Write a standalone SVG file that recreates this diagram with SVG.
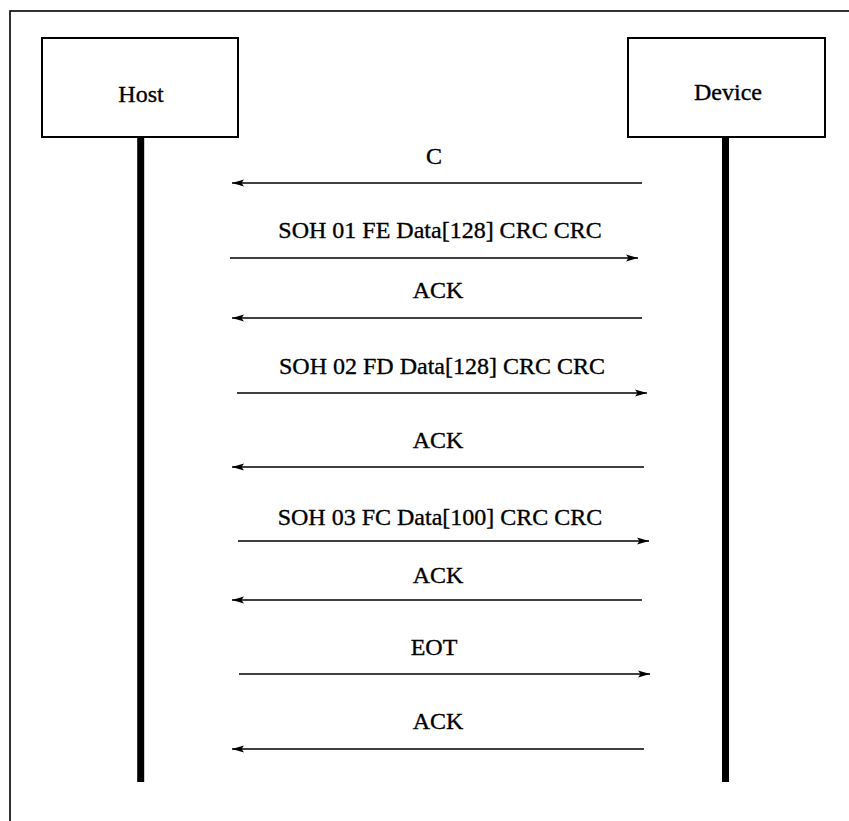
<svg xmlns="http://www.w3.org/2000/svg" width="849" height="821" viewBox="0 0 849 821">
<defs>
<marker id="ah" markerWidth="13" markerHeight="9" refX="12" refY="4.5" orient="auto" markerUnits="userSpaceOnUse">
<path d="M0,1 L12,4.5 L0,8 L2.5,4.5 Z" fill="#000"/>
</marker>
<style>
.box{fill:#fff;stroke:#000;stroke-width:2}
.life{stroke:#000;stroke-width:7}
.msg{stroke:#000;stroke-width:1.7;fill:none;marker-end:url(#ah)}
.t{font-family:"Liberation Serif","Times New Roman",serif;font-size:24px;fill:#000;stroke:#000;stroke-width:0.35;text-anchor:middle}
</style>
</defs>
<rect width="849" height="821" fill="#fff"/>
<rect x="10" y="11" width="900" height="900" fill="none" stroke="#000" stroke-width="1.6"/>
<g id="host">
<rect class="box" x="42" y="38" width="196" height="99"/>
<text class="t" x="141" y="102">Host</text>
<line class="life" x1="140.7" y1="137" x2="140.7" y2="782"/>
</g>
<g id="device">
<rect class="box" x="628" y="38" width="197" height="99"/>
<text class="t" x="728" y="100">Device</text>
<line class="life" x1="725.5" y1="137" x2="725.5" y2="782"/>
</g>
<g id="connectors">
<line class="msg" x1="642" y1="183" x2="232" y2="183"/>
<text class="t" x="434" y="164">C</text>
<line class="msg" x1="230" y1="258" x2="638" y2="258"/>
<text class="t" x="440" y="238">SOH 01 FE Data[128] CRC CRC</text>
<line class="msg" x1="642" y1="318" x2="232" y2="318"/>
<text class="t" x="438" y="298">ACK</text>
<line class="msg" x1="237" y1="393" x2="647" y2="393"/>
<text class="t" x="442" y="374">SOH 02 FD Data[128] CRC CRC</text>
<line class="msg" x1="644" y1="467" x2="232" y2="467"/>
<text class="t" x="438" y="448">ACK</text>
<line class="msg" x1="238" y1="541" x2="649" y2="541"/>
<text class="t" x="440" y="525">SOH 03 FC Data[100] CRC CRC</text>
<line class="msg" x1="642" y1="600" x2="232" y2="600"/>
<text class="t" x="438" y="583">ACK</text>
<line class="msg" x1="239" y1="674" x2="650" y2="674"/>
<text class="t" x="434" y="655">EOT</text>
<line class="msg" x1="644" y1="749" x2="232" y2="749"/>
<text class="t" x="438" y="729">ACK</text>
</g>
</svg>
